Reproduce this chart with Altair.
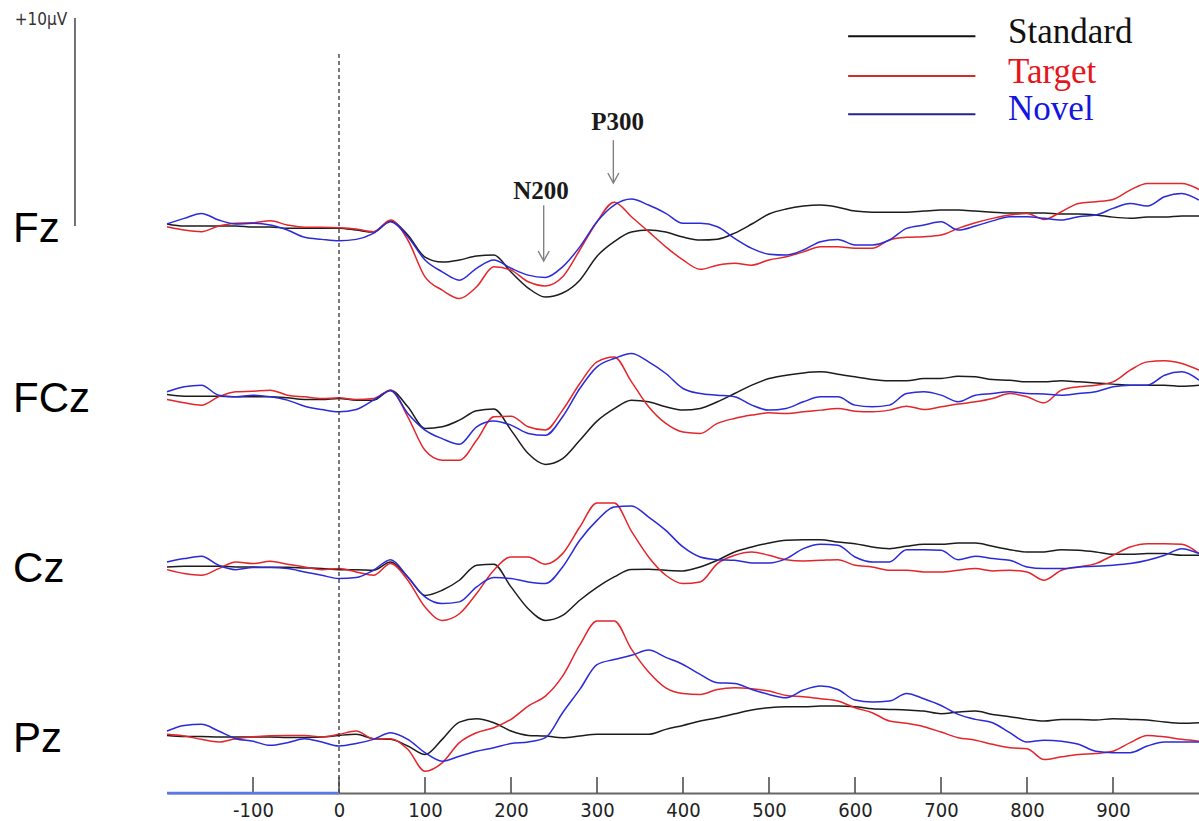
import altair as alt
import pandas as pd

# ---------------------------------------------------------------------------
# Grand-average ERP waveforms (µV), sampled every 20 ms from -200 to 1000 ms
# ---------------------------------------------------------------------------
TIMES = list(range(-200, 1001, 20))
CHANNELS = ["Fz", "FCz", "Cz", "Pz"]
CONDITIONS = ["Standard", "Target", "Novel"]

FZ_STANDARD = [
    0.10, 0.00, 0.00, 0.00, 0.00, -0.05, -0.05, -0.10, -0.10, -0.10,
    -0.10, -0.19, -0.29, 0.24, -0.43, -1.49, -1.73, -1.63, -1.44, -1.39,
    -2.21, -2.98, -3.41, -3.22, -2.60, -1.45, -0.75, -0.29, -0.19, -0.29,
    -0.53, -0.67, -0.63, -0.34, 0.10, 0.58, 0.82, 0.96, 1.01, 0.91,
    0.72, 0.67, 0.67, 0.67, 0.72, 0.77, 0.77, 0.72, 0.67, 0.63,
    0.63, 0.63, 0.58, 0.58, 0.53, 0.43, 0.38, 0.43, 0.43, 0.48, 0.48]
FZ_TARGET = [
    -0.03, -0.19, -0.27, 0.00, 0.14, 0.16, 0.25, 0.05, -0.06, -0.06,
    -0.08, -0.14, -0.27, 0.29, -0.67, -2.44, -3.08, -3.48, -2.92, -1.96,
    -2.12, -2.68, -2.88, -2.44, -1.15, 0.21, 1.15, 0.45, -0.27, -1.00,
    -1.63, -2.08, -1.88, -1.79, -1.88, -1.63, -1.48, -1.24, -1.00, -1.00,
    -1.07, -1.07, -0.67, -0.54, -0.51, -0.43, -0.11, 0.16, 0.37, 0.53,
    0.61, 0.32, 0.69, 1.09, 1.17, 1.28, 1.73, 2.05, 2.05, 2.05, 1.76]
FZ_NOVEL = [
    0.10, 0.37, 0.61, 0.29, 0.10, 0.13, 0.05, -0.19, -0.54, -0.64,
    -0.71, -0.64, -0.35, 0.21, -0.51, -1.63, -2.20, -2.60, -2.03, -1.63,
    -2.03, -2.36, -2.47, -1.96, -1.00, 0.21, 1.01, 1.30, 1.01, 0.61,
    0.13, 0.13, -0.03, -0.59, -1.07, -1.35, -1.39, -1.15, -0.75, -0.64,
    -0.91, -0.91, -0.67, -0.11, 0.05, 0.21, -0.19, 0.00, 0.25, 0.45,
    0.45, 0.37, 0.29, 0.45, 0.53, 0.85, 1.09, 0.96, 1.41, 1.57, 1.25]

FCZ_STANDARD = [
    0.08, 0.00, 0.00, 0.00, -0.03, -0.03, -0.03, -0.08, -0.16, -0.16,
    -0.11, -0.19, -0.19, 0.29, -0.51, -1.55, -1.47, -1.15, -0.70, -0.62,
    -1.63, -2.76, -3.28, -3.00, -2.12, -1.20, -0.60, -0.19, -0.27, -0.51,
    -0.67, -0.59, -0.27, 0.13, 0.53, 0.85, 1.01, 1.12, 1.17, 1.06,
    0.93, 0.80, 0.74, 0.74, 0.85, 0.85, 0.96, 0.93, 0.80, 0.77,
    0.69, 0.69, 0.74, 0.69, 0.64, 0.58, 0.53, 0.53, 0.53, 0.48, 0.53]
FCZ_TARGET = [
    -0.16, -0.32, -0.43, -0.03, 0.21, 0.24, 0.29, 0.05, -0.03, -0.11,
    -0.08, -0.16, -0.11, 0.29, -0.99, -2.60, -3.08, -3.08, -2.12, -0.99,
    -0.96, -1.47, -1.63, -0.67, 0.61, 1.65, 1.89, 0.70, -0.51, -1.31,
    -1.72, -1.79, -1.31, -1.07, -0.91, -0.80, -0.83, -0.75, -0.67, -0.59,
    -0.72, -0.75, -0.67, -0.48, -0.64, -0.51, -0.38, -0.27, -0.11, 0.13,
    -0.03, -0.32, 0.29, 0.45, 0.53, 0.69, 1.25, 1.65, 1.70, 1.57, 1.25]
FCZ_NOVEL = [
    0.21, 0.45, 0.53, 0.05, -0.03, 0.05, -0.03, -0.19, -0.48, -0.64,
    -0.75, -0.64, -0.19, 0.26, -0.83, -1.63, -2.04, -2.31, -1.47, -1.19,
    -1.39, -1.79, -1.88, -0.99, 0.37, 1.41, 1.81, 2.05, 1.65, 1.09,
    0.37, 0.13, 0.05, -0.03, -0.43, -0.67, -0.59, -0.27, -0.03, -0.03,
    -0.43, -0.51, -0.43, 0.13, 0.21, 0.05, -0.27, 0.05, 0.13, 0.21,
    0.13, 0.10, 0.05, 0.13, 0.21, 0.45, 0.53, 0.53, 1.01, 1.17, 0.77]

CZ_STANDARD = [
    -0.03, 0.00, 0.00, 0.00, -0.03, -0.03, -0.05, -0.05, -0.08, -0.10,
    -0.16, -0.16, -0.19, 0.21, -0.51, -1.40, -1.15, -0.67, 0.05, 0.10,
    -0.99, -2.04, -2.60, -2.36, -1.63, -1.01, -0.51, -0.15, -0.14, -0.19,
    -0.22, -0.03, 0.29, 0.69, 0.93, 1.12, 1.25, 1.28, 1.28, 1.17,
    1.09, 0.93, 0.85, 0.96, 1.06, 1.06, 1.12, 1.12, 0.96, 0.80,
    0.69, 0.69, 0.80, 0.77, 0.69, 0.58, 0.58, 0.61, 0.61, 0.53, 0.53]
CZ_TARGET = [
    -0.16, -0.35, -0.43, -0.11, 0.21, 0.13, 0.24, 0.10, -0.03, -0.16,
    -0.11, -0.27, -0.43, 0.13, -0.67, -1.96, -2.60, -2.28, -1.31, -0.19,
    0.45, 0.45, 0.10, 0.61, 1.89, 3.05, 3.05, 1.69, 0.45, -0.43,
    -0.83, -0.75, 0.13, 0.53, 0.69, 0.53, 0.32, 0.26, 0.29, 0.32,
    0.05, -0.03, -0.19, -0.19, -0.27, -0.27, -0.19, -0.11, -0.22, -0.19,
    -0.27, -0.67, -0.19, -0.03, 0.13, 0.53, 0.93, 1.09, 1.09, 1.06, 0.61]
CZ_NOVEL = [
    0.21, 0.37, 0.48, 0.05, -0.16, -0.06, -0.06, -0.11, -0.27, -0.43,
    -0.59, -0.54, -0.19, 0.32, -0.51, -1.47, -1.79, -1.71, -0.99, -0.54,
    -0.59, -0.75, -0.83, -0.03, 1.25, 2.21, 2.85, 2.90, 2.37, 1.73,
    0.93, 0.45, 0.32, 0.29, 0.16, 0.16, 0.37, 0.85, 1.06, 1.01,
    0.45, 0.21, 0.21, 0.80, 0.80, 0.77, 0.32, 0.48, 0.37, 0.29,
    -0.03, -0.11, -0.11, -0.03, 0.00, 0.05, 0.13, 0.29, 0.53, 0.85, 0.61]

PZ_STANDARD = [
    0.05, 0.00, 0.00, -0.03, -0.03, -0.03, -0.03, -0.05, -0.05, -0.03,
    0.05, 0.10, -0.11, -0.14, -0.46, -0.87, -0.14, 0.69, 0.85, 0.66,
    0.26, 0.05, 0.02, -0.06, 0.02, 0.10, 0.10, 0.10, 0.10, 0.34,
    0.53, 0.74, 0.90, 1.09, 1.27, 1.38, 1.43, 1.43, 1.46, 1.46,
    1.43, 1.33, 1.30, 1.27, 1.22, 1.09, 1.17, 1.22, 1.06, 0.95,
    0.82, 0.74, 0.82, 0.82, 0.79, 0.85, 0.82, 0.79, 0.69, 0.63, 0.66]
PZ_TARGET = [
    0.10, 0.02, -0.14, -0.27, -0.11, -0.02, 0.03, 0.05, 0.05, -0.02,
    0.10, 0.26, -0.11, -0.11, -0.62, -1.67, -1.27, -0.30, 0.18, 0.42,
    0.82, 1.46, 1.94, 2.90, 4.40, 5.55, 5.55, 4.20, 3.10, 2.34,
    2.07, 2.02, 2.26, 2.34, 2.29, 2.18, 1.97, 1.91, 1.81, 1.70,
    1.38, 1.14, 0.74, 0.63, 0.47, 0.21, -0.06, -0.18, -0.38, -0.54,
    -0.59, -1.11, -0.98, -0.87, -0.82, -0.71, -0.30, 0.05, -0.02, -0.14, -0.23]
PZ_NOVEL = [
    0.26, 0.53, 0.58, 0.26, -0.11, -0.23, -0.43, -0.30, -0.11, -0.27,
    -0.46, -0.34, -0.14, 0.18, -0.14, -0.78, -1.19, -0.95, -0.71, -0.54,
    -0.34, -0.27, -0.06, 1.14, 2.26, 3.45, 3.70, 3.90, 4.15, 3.80,
    3.46, 2.98, 2.58, 2.55, 2.26, 2.02, 1.86, 2.23, 2.42, 2.26,
    1.75, 1.65, 1.70, 2.07, 1.81, 1.49, 1.06, 0.82, 0.66, 0.18,
    -0.27, -0.18, -0.23, -0.38, -0.71, -0.78, -0.78, -0.46, -0.27, -0.27, -0.27]

WAVES = {
    "Fz": [FZ_STANDARD, FZ_TARGET, FZ_NOVEL],
    "FCz": [FCZ_STANDARD, FCZ_TARGET, FCZ_NOVEL],
    "Cz": [CZ_STANDARD, CZ_TARGET, CZ_NOVEL],
    "Pz": [PZ_STANDARD, PZ_TARGET, PZ_NOVEL],
}

TICK_VALUES = [-100, 0, 100, 200, 300, 400, 500, 600, 700, 800, 900]
COMPONENTS = ["N200", "P300"]
COMPONENT_LATENCY = [238, 319]
SCALE_BAR_UV = 10

# ---------------------------------------------------------------------------
# Layout / style
# ---------------------------------------------------------------------------
CH_STEP = 8.18          # vertical spacing between stacked channels (µV)
Y_TOP, Y_BOTTOM = 10.87, -27.26
X_MIN, X_MAX = -200, 1000
LINE_COLORS = ["#1c1c1c", "#e3262b", "#2a2ad8"]
LEGEND_LINE_COLORS = ["#111111", "#d42a2a", "#24248c"]
LEGEND_TEXT_COLORS = ["#111111", "#e5161b", "#1515e0"]
SANS = "Liberation Sans"
NARROW = "'Liberation Sans Narrow', 'DejaVu Sans Condensed', 'Liberation Sans', sans-serif"
SERIF = "Liberation Serif"

X_SCALE = alt.Scale(domain=[X_MIN, X_MAX], nice=False, zero=False)
Y_SCALE = alt.Scale(domain=[Y_BOTTOM, Y_TOP], nice=False, zero=False)

# plain hyphen-minus in tick labels
X_AXIS = alt.Axis(values=TICK_VALUES, tickSize=0, domainColor="#666666",
                  domainWidth=2, labelFont=NARROW, labelFontSize=20,
                  labelColor="#222222", labelPadding=7, title=None,
                  grid=False, labelFlush=False,
                  labelExpr="'' + datum.value")


def xq(field):
    return alt.X(field, type="quantitative", scale=X_SCALE, axis=X_AXIS)


def yq(field):
    return alt.Y(field, type="quantitative", scale=Y_SCALE, axis=None)


# long table of all waveforms, each channel shifted to its own baseline
rows = []
for ci, ch in enumerate(CHANNELS):
    offset = -CH_STEP * ci
    for cond, series in zip(CONDITIONS, WAVES[ch]):
        assert len(series) == len(TIMES)
        for t, v in zip(TIMES, series):
            rows.append({"channel": ch, "condition": cond, "t": t,
                         "uv": v, "y": v + offset})
waves_df = pd.DataFrame(rows)

waves = alt.Chart(waves_df).mark_line(strokeWidth=1.5, interpolate="monotone").encode(
    x=xq("t"),
    y=yq("y"),
    color=alt.Color("condition:N",
                    scale=alt.Scale(domain=CONDITIONS, range=LINE_COLORS),
                    legend=None),
    detail="channel:N",
    order="t:Q",
)

# inward tick marks on the time axis
ticks_df = pd.DataFrame({"t": TICK_VALUES, "y0": Y_BOTTOM, "y1": Y_BOTTOM + 0.77})
ticks = alt.Chart(ticks_df).mark_rule(color="#444444", strokeWidth=1.5).encode(
    x=xq("t"), y=yq("y0"), y2="y1")

# pre-stimulus part of the time axis
base_df = pd.DataFrame({"t0": [X_MIN], "t1": [0], "y": [Y_BOTTOM]})
prestim = alt.Chart(base_df).mark_rule(color="#5a78e6", strokeWidth=2.5).encode(
    x=xq("t0"), x2="t1", y=yq("y"))

# stimulus onset
onset_df = pd.DataFrame({"t": [0], "y0": [Y_BOTTOM], "y1": [8.32]})
onset = alt.Chart(onset_df).mark_rule(color="#333333", strokeWidth=1.3,
                                      strokeDash=[4, 3]).encode(
    x=xq("t"), y=yq("y0"), y2="y1")

# electrode names
labels_df = pd.DataFrame({"channel": CHANNELS,
                          "t": [-379] * len(CHANNELS),
                          "y": [-CH_STEP * i - 0.14 for i in range(len(CHANNELS))]})
ch_labels = alt.Chart(labels_df).mark_text(
    align="left", baseline="middle", font=SANS, fontSize=42, color="#000000"
).encode(x=xq("t"), y=yq("y"), text="channel:N")

# amplitude scale bar
bar_df = pd.DataFrame({"t": [-307], "y0": [0], "y1": [SCALE_BAR_UV]})
scale_bar = alt.Chart(bar_df).mark_rule(color="#444444", strokeWidth=1.5).encode(
    x=xq("t"), y=yq("y0"), y2="y1")
bar_text_df = pd.DataFrame({"t": [-316], "y": [SCALE_BAR_UV - 0.1],
                            "label": [f"+{SCALE_BAR_UV}µV"]})
scale_text = alt.Chart(bar_text_df).mark_text(
    align="right", baseline="middle", font=NARROW, fontSize=17, color="#333333"
).encode(x=xq("t"), y=yq("y"), text="label:N")

# legend
legend_df = pd.DataFrame({
    "condition": CONDITIONS,
    "t0": [592] * 3, "t1": [740] * 3, "tt": [778] * 3,
    "yl": [9.13, 7.21, 5.38],
    "yt": [8.78, 6.88, 5.08],
    "lc": LEGEND_LINE_COLORS, "tc": LEGEND_TEXT_COLORS,
})
legend_lines = alt.Chart(legend_df).mark_rule(strokeWidth=2).encode(
    x=xq("t0"), x2="t1", y=yq("yl"), color=alt.Color("lc:N", scale=None))
legend_text = alt.Chart(legend_df).mark_text(
    align="left", baseline="alphabetic", font=SERIF, fontSize=35
).encode(x=xq("tt"), y=yq("yt"), text="condition:N",
         color=alt.Color("tc:N", scale=None))

# component annotations
ann_df = pd.DataFrame({
    "name": COMPONENTS,
    "t": COMPONENT_LATENCY,
    "tt": [235, 324],
    "ytext": [1.68, 5.0],
    "ytop": [1.0, 4.13],
    "ytip": [-1.68, 2.07],
})
ann_text = alt.Chart(ann_df).mark_text(
    align="center", baseline="middle", font=SERIF, fontSize=25,
    fontWeight="bold", color="#1a1a1a"
).encode(x=xq("tt"), y=yq("ytext"), text="name:N")
ann_stem = alt.Chart(ann_df).mark_rule(color="#808080", strokeWidth=1.4).encode(
    x=xq("t"), y=yq("ytop"), y2="ytip")
ann_head = alt.Chart(ann_df).mark_point(
    shape="M-0.55,-1L0,0L0.55,-1", filled=False, size=400,
    color="#808080", strokeWidth=1.4, opacity=1
).encode(x=xq("t"), y=yq("ytip"))

chart = alt.layer(
    waves, onset, ticks, prestim, ch_labels, scale_bar, scale_text,
    legend_lines, legend_text, ann_stem, ann_head, ann_text,
).properties(
    width=1032, height=793,
    autosize=alt.AutoSizeParams(type="none"),
    padding={"left": 167, "top": 0, "right": 0, "bottom": 28},
    background="white",
).configure_view(stroke=None)

chart.save("out.html", embed_options={"renderer": "svg", "actions": False})
